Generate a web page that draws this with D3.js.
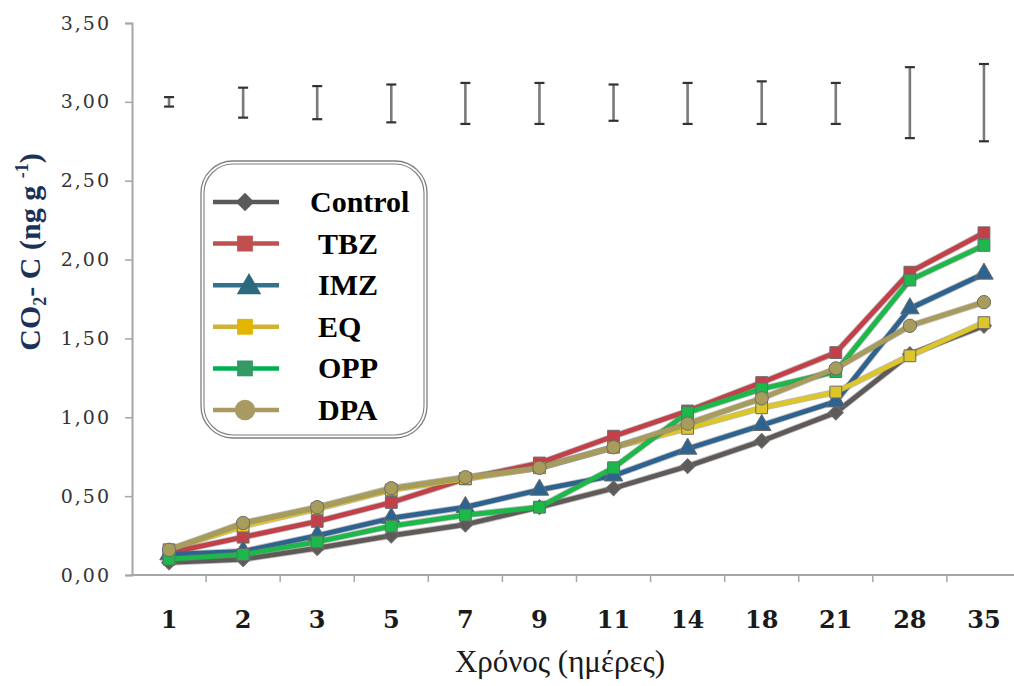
<!DOCTYPE html>
<html>
<head>
<meta charset="utf-8">
<script src="https://cdn.jsdelivr.net/npm/d3@7"></script>
<style>
  html, body { margin: 0; padding: 0; background: #fff; }
  svg { display: block; }
</style>
</head>
<body>
<svg id="chart" width="1014" height="686"></svg>
<script>
// Sampling days (categorical x axis)
const days = ["1", "2", "3", "5", "7", "9", "11", "14", "18", "21", "28", "35"];

// Cumulative CO2-C per treatment
const control = [0.08, 0.10, 0.17, 0.25, 0.32, 0.43, 0.55, 0.69, 0.85, 1.03, 1.40, 1.58];
const tbz     = [0.14, 0.24, 0.34, 0.46, 0.61, 0.71, 0.88, 1.04, 1.22, 1.41, 1.92, 2.17];
const imz     = [0.13, 0.15, 0.25, 0.36, 0.43, 0.54, 0.63, 0.80, 0.95, 1.10, 1.69, 1.91];
const eq      = [0.16, 0.31, 0.42, 0.54, 0.61, 0.68, 0.81, 0.93, 1.06, 1.16, 1.39, 1.60];
const opp     = [0.10, 0.13, 0.21, 0.31, 0.38, 0.43, 0.68, 1.03, 1.18, 1.29, 1.87, 2.09];
const dpa     = [0.16, 0.33, 0.43, 0.55, 0.62, 0.68, 0.81, 0.96, 1.12, 1.31, 1.58, 1.73];

// Error-bar range shown at the top of the plot for each day
const errLow  = [2.97, 2.90, 2.89, 2.87, 2.86, 2.86, 2.88, 2.86, 2.86, 2.86, 2.77, 2.75];
const errHigh = [3.03, 3.09, 3.10, 3.11, 3.12, 3.12, 3.11, 3.12, 3.13, 3.12, 3.22, 3.24];

const seriesNames = ["Control", "TBZ", "IMZ", "EQ", "OPP", "DPA"];
const seriesValues = [control, tbz, imz, eq, opp, dpa];
const seriesColors = ["#5f5a58", "#c4404a", "#2d6490", "#dcc62c", "#1eb84a", "#a89c5c"];
const legendLineColors = ["#595959", "#c0504d", "#31738a", "#d2b235", "#00b050", "#a99a62"];
const legendMarkColors = ["#595959", "#c0504d", "#2b6a7e", "#e3b400", "#349a64", "#a89a62"];
const seriesShapes = ["diamond", "square", "triangle", "square", "square", "circle"];

const yTicks = [0, 0.5, 1, 1.5, 2, 2.5, 3, 3.5];

const svg = d3.select("#chart");

const x = d3.scaleBand().domain(days).range([132, 1021]).paddingInner(0).paddingOuter(0);
const y = d3.scaleLinear().domain([0, 3.5]).range([575, 23]);
const cx = d => x(d) + x.bandwidth() / 2;

const locale = d3.formatLocale({ decimal: ",", thousands: ".", grouping: [3], currency: ["", "€"] });
const fmt = locale.format(".2f");

// Diamonds are drawn as squares turned 45 degrees
const symbolFor = shape => ({
  diamond: d3.symbolSquare, square: d3.symbolSquare,
  triangle: d3.symbolTriangle, circle: d3.symbolCircle
})[shape];
const turn = shape => (shape === "diamond" ? " rotate(45)" : "");

// Soft edges for the data lines
const defs = svg.append("defs");
defs.append("filter").attr("id", "soft").attr("x", "-5%").attr("y", "-5%").attr("width", "110%").attr("height", "110%")
  .append("feGaussianBlur").attr("stdDeviation", 0.7);

// Y axis
const yAxis = d3.axisLeft(y).tickValues(yTicks).tickFormat(fmt).tickSize(7).tickPadding(14);
const gy = svg.append("g").attr("transform", "translate(132,0)").call(yAxis);
gy.select(".domain").attr("stroke", "#a6a6a6").attr("stroke-width", 2);
gy.selectAll(".tick line").attr("stroke", "#a6a6a6").attr("stroke-width", 1.5);
gy.selectAll(".tick text")
  .attr("font-family", "'DejaVu Serif', serif")
  .attr("font-size", 19)
  .attr("letter-spacing", 2)
  .attr("fill", "#333");

// X axis: baseline with ticks at the band boundaries
const gx = svg.append("g");
gx.append("line").attr("x1", 131).attr("x2", 1014).attr("y1", y(0)).attr("y2", y(0))
  .attr("stroke", "#a6a6a6").attr("stroke-width", 2);
gx.selectAll("line.tk").data(days.slice(1)).join("line").attr("class", "tk")
  .attr("x1", d => x(d)).attr("x2", d => x(d))
  .attr("y1", y(0)).attr("y2", y(0) + 7)
  .attr("stroke", "#a6a6a6").attr("stroke-width", 1.5);
gx.selectAll("text").data(days).join("text")
  .attr("x", d => cx(d)).attr("y", 628)
  .attr("text-anchor", "middle")
  .attr("font-family", "'DejaVu Serif', serif")
  .attr("font-weight", "bold")
  .attr("font-size", 24)
  .attr("fill", "#1a1a1a")
  .text(d => d);

// Axis titles
svg.append("text")
  .attr("x", 560).attr("y", 672)
  .attr("text-anchor", "middle")
  .attr("font-family", "'Liberation Serif', serif")
  .attr("font-size", 31)
  .attr("fill", "#1a1a1a")
  .text("Χρόνος (ημέρες)");

const yt = svg.append("text")
  .attr("transform", "translate(40,252) rotate(-90)")
  .attr("text-anchor", "middle")
  .attr("font-family", "'Liberation Serif', serif")
  .attr("font-weight", "bold")
  .attr("font-size", 30)
  .attr("fill", "#1c3157");
yt.append("tspan").text("CO");
yt.append("tspan").attr("font-size", 18).attr("dy", 6).text("2");
yt.append("tspan").attr("dy", -6).text("- C (ng g ");
yt.append("tspan").attr("font-size", 18).attr("dy", -12).text("-1");
yt.append("tspan").attr("dy", 12).text(")");

// Error bars
const eb = svg.append("g").attr("filter", "url(#soft)");
days.forEach((d, i) => {
  eb.append("line").attr("x1", cx(d)).attr("x2", cx(d))
    .attr("y1", y(errHigh[i])).attr("y2", y(errLow[i]))
    .attr("stroke", "#7a7a7a").attr("stroke-width", 2.6);
  [errHigh[i], errLow[i]].forEach(v => {
    eb.append("line").attr("x1", cx(d) - 5).attr("x2", cx(d) + 5)
      .attr("y1", y(v)).attr("y2", y(v))
      .attr("stroke", "#333").attr("stroke-width", 2.2);
  });
});

// Series lines and markers
const plot = svg.append("g").attr("filter", "url(#soft)");
const line = d3.line().x((v, i) => cx(days[i])).y(v => y(v));
seriesValues.forEach((vals, s) => {
  const shape = seriesShapes[s];
  const g = plot.append("g");
  g.append("path").datum(vals).attr("d", line)
    .attr("fill", "none").attr("stroke", "#6d6d6d").attr("stroke-opacity", 0.45)
    .attr("stroke-width", 6.5).attr("stroke-linejoin", "round");
  g.append("path").datum(vals).attr("d", line)
    .attr("fill", "none").attr("stroke", seriesColors[s])
    .attr("stroke-width", 4.8).attr("stroke-linejoin", "round");
  const sym = d3.symbol().type(symbolFor(shape))
    .size(shape === "triangle" ? 150 : shape === "diamond" ? 110 : 140);
  g.selectAll("path.mk").data(vals).join("path").attr("class", "mk")
    .attr("transform", (v, i) => `translate(${cx(days[i])},${y(v)})${turn(shape)}`)
    .attr("d", sym)
    .attr("fill", seriesColors[s])
    .attr("stroke", "#6b6b6b").attr("stroke-width", 1);
});

// Legend with a double rounded frame
const lg = svg.append("g");
lg.append("rect").attr("x", 201).attr("y", 161).attr("width", 226).attr("height", 277)
  .attr("rx", 32).attr("ry", 32)
  .attr("fill", "#fff").attr("stroke", "#7f7f7f").attr("stroke-width", 1.3);
lg.append("rect").attr("x", 204).attr("y", 164).attr("width", 220).attr("height", 271)
  .attr("rx", 29).attr("ry", 29)
  .attr("fill", "none").attr("stroke", "#7f7f7f").attr("stroke-width", 1.1);

const legendRowY = d3.scaleLinear().domain([0, seriesNames.length - 1]).range([202, 410]);
seriesNames.forEach((name, s) => {
  const ry = legendRowY(s);
  const shape = seriesShapes[s];
  lg.append("line").attr("x1", 213).attr("x2", 279).attr("y1", ry).attr("y2", ry)
    .attr("stroke", legendLineColors[s]).attr("stroke-width", 4.5);
  const size = { diamond: 170, square: 250, triangle: 260, circle: 330 }[shape];
  lg.append("path")
    .attr("transform", `translate(${shape === "triangle" ? 249 : 245},${ry + (shape === "triangle" ? 2 : 0)})${turn(shape)}`)
    .attr("d", d3.symbol().type(symbolFor(shape)).size(size))
    .attr("fill", legendMarkColors[s]);
  lg.append("text")
    .attr("x", name === "Control" ? 310 : 318).attr("y", ry + 10)
    .attr("font-family", "'Liberation Serif', serif")
    .attr("font-weight", "bold")
    .attr("font-size", 30)
    .attr("fill", "#000")
    .text(name);
});
</script>
</body>
</html>
